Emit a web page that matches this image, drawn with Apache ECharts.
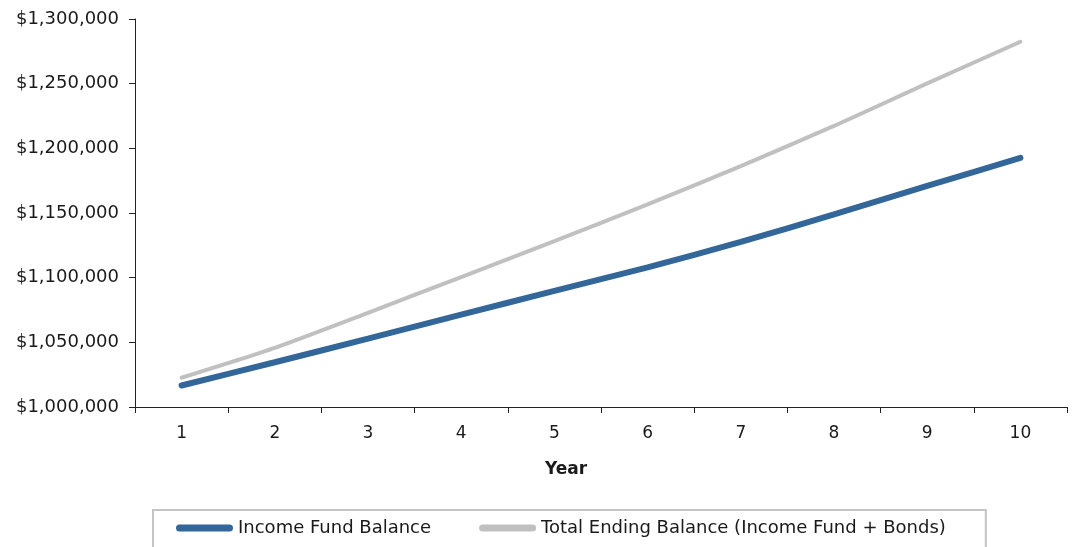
<!DOCTYPE html>
<html>
<head>
<meta charset="utf-8">
<script src="https://cdn.jsdelivr.net/npm/echarts@6/dist/echarts.min.js"></script>
<style>
  html, body { margin: 0; padding: 0; background: #fff; }
  #chart { width: 1076px; height: 547px; }
</style>
</head>
<body>
<div id="chart"></div>
<script>
// years on the x axis
const years = ['1', '2', '3', '4', '5', '6', '7', '8', '9', '10'];
// balances
const incomeFund = [1016600, 1034600, 1052800, 1071400, 1089800, 1107900, 1127600, 1148900, 1170900, 1192600];
const totalEnding = [1022600, 1045700, 1072800, 1100500, 1128300, 1156700, 1186300, 1217300, 1250200, 1282400];
const seriesNames = ['Income Fund Balance', 'Total Ending Balance (Income Fund + Bonds)'];

const chart = echarts.init(document.getElementById('chart'));
const font = 'DejaVu Sans';
// capsule shaped legend key, like the thick line ends (57 x 7)
const capsule = 'path://M3.5,0H53.5A3.5,3.5 0 0 1 53.5,7H3.5A3.5,3.5 0 0 1 3.5,0Z';

chart.setOption({
  animation: false,
  backgroundColor: '#fff',
  grid: { left: 135, right: 9, top: 19, bottom: 140 },
  xAxis: {
    type: 'category',
    data: years,
    boundaryGap: true,
    axisLine: { lineStyle: { color: '#222', width: 1 } },
    axisTick: { show: true, length: 6, lineStyle: { color: '#222' } },
    axisLabel: { color: '#1a1a1a', fontFamily: font, fontSize: 17, margin: 18 },
    splitLine: { show: false }
  },
  yAxis: {
    type: 'value',
    min: 1000000,
    max: 1300000,
    interval: 50000,
    axisLine: { show: true, lineStyle: { color: '#222', width: 1 } },
    axisTick: { show: true, length: 6, lineStyle: { color: '#222' } },
    axisLabel: {
      color: '#1a1a1a', fontFamily: font, fontSize: 18, margin: 16,
      formatter: v => '$' + v.toLocaleString('en-US')
    },
    splitLine: { show: false }
  },
  legend: {
    left: 153,
    top: 510,
    padding: [9, 40, 40, 23],
    itemWidth: 57,
    itemHeight: 7,
    itemGap: 48,
    borderColor: '#c4c4c4',
    borderWidth: 2,
    textStyle: { color: '#1a1a1a', fontFamily: font, fontSize: 18 },
    data: [
      { name: seriesNames[0], icon: capsule },
      { name: seriesNames[1], icon: capsule }
    ]
  },
  graphic: [{
    type: 'text',
    x: 566,
    y: 470,
    style: {
      text: 'Year',
      fill: '#1a1a1a',
      font: 'bold 17px "DejaVu Sans"',
      textAlign: 'center',
      textVerticalAlign: 'middle'
    }
  }],
  series: [
    {
      name: seriesNames[0],
      type: 'line',
      data: incomeFund,
      smooth: 0.2,
      symbol: 'none',
      lineStyle: { color: '#336699', width: 6, cap: 'round' },
      itemStyle: { color: '#336699' },
      z: 3
    },
    {
      name: seriesNames[1],
      type: 'line',
      data: totalEnding,
      smooth: 0.2,
      symbol: 'none',
      lineStyle: { color: '#c0c0c0', width: 4, cap: 'round' },
      itemStyle: { color: '#c0c0c0' },
      z: 2
    }
  ]
});
</script>
</body>
</html>
